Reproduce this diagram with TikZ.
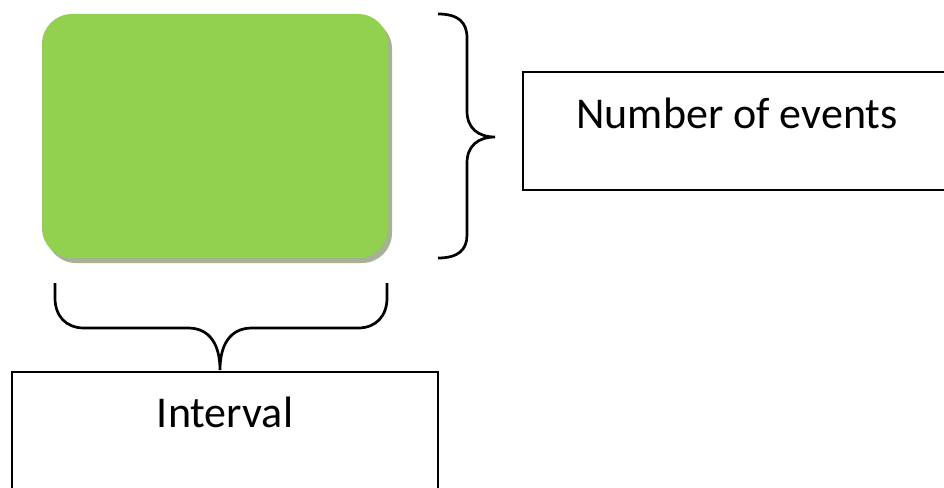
\documentclass[tikz,border=0pt]{standalone}
\usepackage{fontspec}
\setmainfont{Carlito}
\definecolor{boxgreen}{HTML}{92D050}
\definecolor{shadowgray}{HTML}{A6B195}
\tikzset{
  framebox/.style={draw=black, line width=2.7pt, fill=white},
  bracepath/.style={draw=black, line width=2.7pt, line cap=butt},
  labeltext/.style={font=\fontsize{44}{50}\selectfont, inner sep=0pt, anchor=base},
}
\begin{document}
\begin{tikzpicture}[x=1pt,y=-1pt]
\useasboundingbox (0,0) rectangle (944,487);
\clip (0,0) rectangle (944,487);
% green rounded box with shadow
\fill[shadowgray, rounded corners=30pt] (46,19) rectangle (392,263);
\fill[boxgreen, rounded corners=30pt] (42,14) rectangle (388,258);
\coordinate (g) at (215,136);
% right brace
\coordinate (rbtop) at (438,14);
\coordinate (rbtip) at (495,137);
\coordinate (rbbot) at (438,258);
\draw[bracepath] (rbtop) .. controls (458,14) and (467,22) .. (467,38)
  -- (467,111) .. controls (467,128) and (478,137) .. (rbtip)
  .. controls (478,137) and (467,146) .. (467,163)
  -- (467,235) .. controls (467,250) and (458,258) .. (rbbot);
% number of events box
\draw[framebox] (523,72) rectangle (960,190);
\node[labeltext] (ne) at (737,128) {Number of events};
% bottom brace
\coordinate (bbl) at (55,283);
\coordinate (bbtip) at (220,370);
\coordinate (bbr) at (387,283);
\draw[bracepath] (bbl) -- (55,298) .. controls (55,316) and (66,328) .. (84,328)
  -- (188,328) .. controls (210,328) and (220,345) .. (bbtip)
  .. controls (220,345) and (230,328) .. (252,328)
  -- (358,328) .. controls (376,328) and (387,316) .. (387,298) -- (bbr);
% interval box
\draw[framebox] (12,372) rectangle (438,500);
\node[labeltext] (iv) at (225,427) {Interval};
\end{tikzpicture}
\end{document}
